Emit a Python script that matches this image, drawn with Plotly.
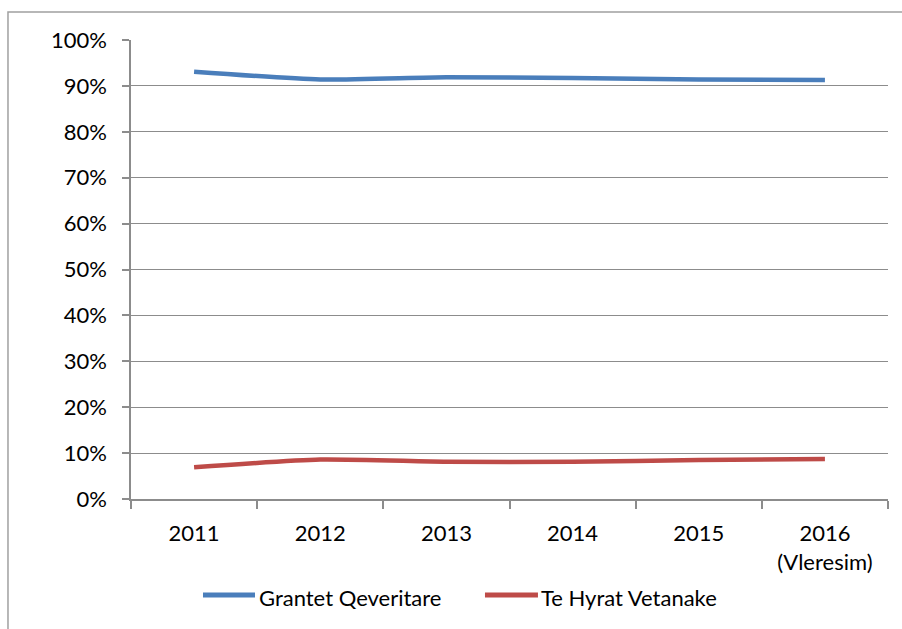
import plotly.graph_objects as go

# Annual shares of revenue sources
years = ["2011", "2012", "2013", "2014", "2015", "2016<br>(Vleresim)"]
grantet_qeveritare = [0.931, 0.914, 0.919, 0.917, 0.914, 0.913]
te_hyrat_vetanake = [0.069, 0.086, 0.081, 0.081, 0.085, 0.087]

series = [
    ("Grantet Qeveritare", grantet_qeveritare, "#4A7EBB"),
    ("Te Hyrat Vetanake", te_hyrat_vetanake, "#BE4B48"),
]

FONT = "Lato"
GRID = "#8c8c8c"

fig = go.Figure()
for name, values, color in series:
    fig.add_trace(go.Scatter(
        x=years, y=values, name=name, mode="lines", showlegend=False,
        line=dict(color=color, width=4.5, shape="spline", smoothing=0.6),
    ))

# Legend drawn below the axes: a line sample followed by its label
legend_items = [
    # (sample start, sample end, label x) in paper coordinates
    (0.0951, 0.1638, 0.1665),
    (0.4676, 0.5376, 0.5390),
]
legend_y = -0.2092
shapes = [
    dict(type="rect", xref="paper", yref="paper",
         x0=-0.1625, x1=1.2, y0=-0.5, y1=1.061,
         line=dict(color="#a0a0a0", width=1.5), fillcolor="rgba(0,0,0,0)",
         layer="below"),
]
annotations = []
for (x0, x1, xt), (name, _, color) in zip(legend_items, series):
    shapes.append(dict(type="line", xref="paper", yref="paper",
                       x0=x0, x1=x1, y0=legend_y, y1=legend_y,
                       line=dict(color=color, width=5)))
    annotations.append(dict(xref="paper", yref="paper", x=xt, y=legend_y - 0.0045,
                            xanchor="left", yanchor="middle", showarrow=False,
                            text=name, font=dict(family=FONT, size=22, color="#000000")))

fig.update_layout(
    width=902, height=629,
    margin=dict(l=131, r=14, t=40, b=130),
    paper_bgcolor="white", plot_bgcolor="white",
    font=dict(family=FONT, size=22, color="#000000"),
    shapes=shapes,
    annotations=annotations,
)

fig.update_xaxes(
    type="category", showgrid=False,
    showline=True, linecolor=GRID, linewidth=1.5,
    ticks="outside", tickson="boundaries", ticklen=8, tickcolor=GRID, tickwidth=1.5,
    tickfont=dict(family=FONT, size=22), ticklabelstandoff=14,
    range=[-0.5, 5.5],
)
fig.update_yaxes(
    range=[0, 1], dtick=0.1, tickformat=".0%",
    showgrid=True, gridcolor=GRID, gridwidth=1.2,
    showline=True, linecolor=GRID, linewidth=1.5,
    ticks="outside", ticklen=7, tickcolor=GRID, tickwidth=1.5,
    tickfont=dict(family=FONT, size=22), ticklabelstandoff=11,
    zeroline=False,
)

fig.write_html("out.html")
